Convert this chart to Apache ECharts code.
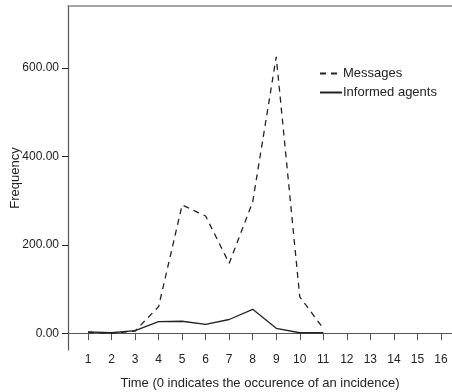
<!DOCTYPE html>
<html>
<head>
<meta charset="utf-8">
<script src="https://cdn.jsdelivr.net/npm/echarts@6/dist/echarts.min.js"></script>
<style>
  html, body { margin: 0; padding: 0; background: #fff; }
  #chart { width: 452px; height: 392px; }
</style>
</head>
<body>
<div id="chart"></div>
<script>
// time steps (x) and the two series
const times = [1, 2, 3, 4, 5, 6, 7, 8, 9, 10, 11]
const messages = [2, 0, 5, 60, 290, 265, 158, 297, 625, 82, 11]
const informed = [3, 1, 6, 26, 27, 20, 31, 54, 11, 1, 1]
const xTicks = [1, 2, 3, 4, 5, 6, 7, 8, 9, 10, 11, 12, 13, 14, 15, 16]
const yTicks = [0, 200, 400, 600]

const font = 'Liberation Sans, Arial, sans-serif'
const axisColor = '#555'

const toPairs = (ys) => times.map((t, i) => [t, ys[i]])

const chart = echarts.init(document.getElementById('chart'), null, { renderer: 'canvas' })

chart.setOption({
  backgroundColor: '#fff',
  animation: false,
  textStyle: { fontFamily: font },
  // fixed plot box, don't let labels push it around
  grid: { left: 68, top: 6, right: 0, bottom: 42, containLabel: false, outerBoundsMode: 'none' },
  legend: {
    left: 314,
    top: 62,
    orient: 'vertical',
    itemWidth: 22,
    itemHeight: 10,
    itemGap: 6,
    itemStyle: { opacity: 0 },
    textStyle: { fontSize: 13, color: '#222', padding: [0, 0, 0, -4] },
    data: ['Messages', 'Informed agents']
  },
  xAxis: [
    {
      type: 'value',
      min: 0.15,
      max: 16.47,
      name: 'Time (0 indicates the occurence of an incidence)',
      nameLocation: 'middle',
      nameGap: 27,
      nameMoveOverlap: false,
      nameTextStyle: { fontSize: 13, color: '#222' },
      axisLine: { lineStyle: { color: axisColor, width: 1.2 } },
      axisTick: { show: true, length: 7, customValues: xTicks, lineStyle: { color: axisColor } },
      axisLabel: { customValues: xTicks, fontSize: 12, color: '#222', margin: 4 },
      splitLine: { show: false }
    },
    {
      // top frame line only
      type: 'value',
      position: 'top',
      min: 0.15,
      max: 16.47,
      axisLine: { show: true, lineStyle: { color: '#888', width: 1.5 } },
      axisTick: { show: false },
      axisLabel: { show: false },
      splitLine: { show: false }
    }
  ],
  yAxis: {
    type: 'value',
    min: -38,
    max: 740,
    name: 'Frequency',
    nameLocation: 'middle',
    nameGap: 46,
    nameMoveOverlap: false,
    nameTextStyle: { fontSize: 13, color: '#222' },
    axisLine: { show: true, lineStyle: { color: axisColor, width: 1.2 } },
    axisTick: { show: true, length: 6, customValues: yTicks, lineStyle: { color: '#222' } },
    axisLabel: {
      customValues: yTicks,
      fontSize: 12,
      color: '#222',
      margin: 9,
      formatter: (v) => v.toFixed(2)
    },
    splitLine: { show: false }
  },
  series: [
    {
      name: 'Messages',
      type: 'line',
      symbol: 'none',
      data: toPairs(messages),
      lineStyle: { color: '#222', width: 1.3, type: [6, 5] },
      itemStyle: { color: '#222' }
    },
    {
      name: 'Informed agents',
      type: 'line',
      symbol: 'none',
      data: toPairs(informed),
      lineStyle: { color: '#222', width: 1.3 },
      itemStyle: { color: '#222' }
    }
  ]
})
</script>
</body>
</html>
